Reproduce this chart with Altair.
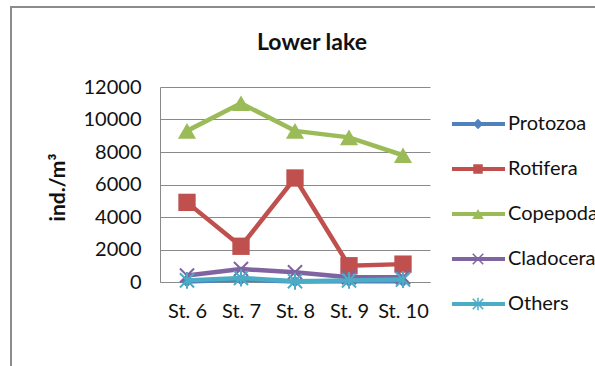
import altair as alt
import pandas as pd

# Zooplankton density per station (ind./m3)
stations = ["St. 6", "St. 7", "St. 8", "St. 9", "St. 10"]
protozoa = [30, 150, 30, 40, 40]
rotifera = [4900, 2200, 6400, 1000, 1100]
copepoda = [9300, 11000, 9300, 8900, 7800]
cladocera = [400, 800, 600, 300, 300]
others = [100, 250, 50, 100, 150]

series_names = ["Protozoa", "Rotifera", "Copepoda", "Cladocera", "Others"]
series_values = [protozoa, rotifera, copepoda, cladocera, others]
series_colors = ["#4F81BD", "#C0504D", "#9BBB59", "#8064A2", "#4BACC6"]
chart_title = "Lower lake"

# marker style per series: shape, filled, size on the plot, size in the key
X_PATH = "M-1,-1L1,1M-1,1L1,-1"
STAR_PATH = "M-1,-1L1,1M-1,1L1,-1M0,-1.2L0,1.2"
markers = [
    ("diamond", True, 140, 110),
    ("square", True, 300, 90),
    ("triangle-up", True, 330, 130),
    (X_PATH, False, 200, 110),
    (STAR_PATH, False, 200, 110),
]

rows = []
for name, vals in zip(series_names, series_values):
    for st, v in zip(stations, vals):
        rows.append({"station": st, "series": name, "value": v})
df = pd.DataFrame(rows)
key_df = pd.DataFrame({"series": series_names})

FONT = "Lato"

x_enc = alt.X(
    "station:N",
    sort=stations,
    scale=alt.Scale(domain=stations, padding=0.5),
    axis=alt.Axis(
        title=None, labelAngle=0, ticks=False, domain=True, domainColor="#8a8a8a",
        labelFontSize=20, labelPadding=19, labelColor="#111", labelFont=FONT,
    ),
)
y_axis = alt.Axis(
    values=list(range(0, 12001, 2000)), format="d", ticks=False,
    domainColor="#8a8a8a", gridColor="#8a8a8a", grid=True,
    labelFontSize=20, labelPadding=19, labelColor="#111", labelFont=FONT,
    title="ind./m³", titleFontSize=21, titleFont=FONT, titleFontWeight="bold",
    titleColor="#111", titleAngle=-90, titleX=-96, titleY=100, titleAlign="center",
    titleBaseline="alphabetic",
)
y_enc = alt.Y("value:Q", scale=alt.Scale(domain=[0, 12000]), axis=y_axis)

# outer frame of the chart area
one_row = alt.Data(values=[{"t": chart_title}])
frame = alt.Chart(one_row).mark_rect(
    fill="transparent", stroke="#8c8c8c", strokeWidth=2
).encode(
    x=alt.value(-149), x2=alt.value(700), y=alt.value(-80), y2=alt.value(500)
)
title = alt.Chart(one_row).mark_text(
    align="center", baseline="alphabetic", fontSize=23, font=FONT,
    fontWeight="bold", color="#111",
).encode(x=alt.value(152), y=alt.value(-37), text="t:N")

plot_layers = []
for name, color, (shape, filled, size, _) in zip(series_names, series_colors, markers):
    sub = alt.Chart(df).transform_filter(alt.datum.series == name)
    line = sub.mark_line(color=color, strokeWidth=4.5).encode(x=x_enc, y=y_enc)
    pts = sub.mark_point(
        shape=shape, filled=filled, color=color, size=size,
        strokeWidth=2, opacity=1,
    ).encode(x=x_enc, y=y_enc)
    plot_layers += [line, pts]

plot = alt.layer(*plot_layers)

# series key to the right of the plot (point scale, half-step padding)
key_y = alt.Y(
    "series:N", sort=series_names,
    scale=alt.Scale(domain=series_names, range=[14.5, 239.5]), axis=None,
)
key_layers = []
for name, color, (shape, filled, _, ksize) in zip(series_names, series_colors, markers):
    ksub = alt.Chart(key_df).transform_filter(alt.datum.series == name)
    key_layers.append(
        ksub.mark_rule(color=color, strokeWidth=4).encode(
            x=alt.value(292), x2=alt.value(345), y=key_y
        )
    )
    key_layers.append(
        ksub.mark_point(
            shape=shape, filled=filled, color=color, size=ksize,
            strokeWidth=1.5, opacity=1,
        ).encode(x=alt.value(318), y=key_y)
    )
key_layers.append(
    alt.Chart(key_df).mark_text(
        align="left", baseline="middle", fontSize=20, font=FONT, color="#111"
    ).encode(x=alt.value(348), y=key_y, text="series:N")
)
key = alt.layer(*key_layers)

chart = (
    alt.layer(frame, title, plot, key)
    .resolve_scale(y="independent")
    .properties(
        width=270,
        height=195,
        autosize=alt.AutoSizeParams(type="none"),
        padding={"left": 160, "top": 87, "right": 165, "bottom": 84},
        background="white",
    )
    .configure_view(stroke="transparent")
)

chart.save("out.html", embed_options={"renderer": "svg", "actions": False})
